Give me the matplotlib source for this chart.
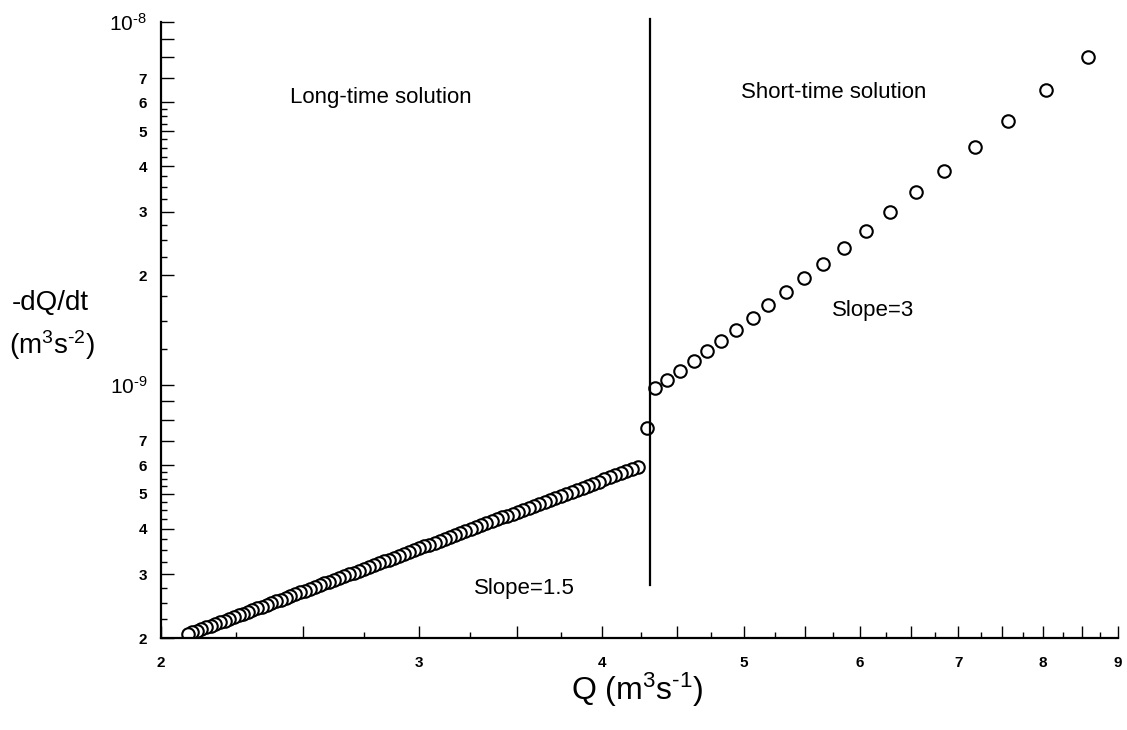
import matplotlib
matplotlib.use('Agg')
import matplotlib.pyplot as plt
from matplotlib.ticker import NullFormatter

plt.rcParams['font.family'] = ['Liberation Sans', 'DejaVu Sans']
plt.rcParams['mathtext.fontset'] = 'custom'
plt.rcParams['mathtext.rm'] = 'Liberation Sans'
plt.rcParams['mathtext.it'] = 'Liberation Sans:italic'
plt.rcParams['mathtext.bf'] = 'Liberation Sans:bold'

# short-time solution: Q [m3/s], -dQ/dt [1e-9 m3/s2]
q_short = [8.59, 8.04, 7.57, 7.19, 6.85, 6.55, 6.29, 6.06, 5.85, 5.66, 5.49,
           5.34, 5.19, 5.07, 4.94, 4.82, 4.72, 4.62, 4.52, 4.43, 4.35]
dq_short = [8.03, 6.50, 5.35, 4.53, 3.89, 3.40, 2.99, 2.66, 2.38, 2.15, 1.97,
            1.80, 1.654, 1.526, 1.417, 1.322, 1.235, 1.159, 1.093, 1.032, 0.979]

# point sitting on the switch between the two solutions
q_mid = [4.29]
dq_mid = [0.760]

# long-time solution: Q [m3/s], -dQ/dt [1e-10 m3/s2]
q_long = [4.230, 4.193, 4.156, 4.120, 4.085, 4.050, 4.015, 3.980, 3.946, 3.912,
          3.879, 3.846, 3.813, 3.781, 3.749, 3.717, 3.686, 3.655, 3.624, 3.594,
          3.564, 3.534, 3.505, 3.476, 3.447, 3.418, 3.390, 3.362, 3.335, 3.307,
          3.280, 3.253, 3.227, 3.201, 3.175, 3.149, 3.124, 3.098, 3.074, 3.049,
          3.025, 3.000, 2.976, 2.953, 2.929, 2.906, 2.883, 2.861, 2.838, 2.816,
          2.794, 2.772, 2.750, 2.729, 2.708, 2.687, 2.666, 2.646, 2.625, 2.605,
          2.585, 2.566, 2.546, 2.527, 2.508, 2.489, 2.470, 2.451, 2.433, 2.415,
          2.397, 2.379, 2.361, 2.344, 2.327, 2.309, 2.292, 2.276, 2.259, 2.242,
          2.226, 2.210, 2.194, 2.178, 2.162, 2.147, 2.131, 2.116, 2.101, 2.086]
dq_long = [5.919, 5.842, 5.766, 5.691, 5.618, 5.545, 5.474, 5.403, 5.334, 5.266,
           5.198, 5.132, 5.067, 5.002, 4.939, 4.877, 4.815, 4.754, 4.695, 4.636,
           4.578, 4.521, 4.464, 4.409, 4.354, 4.300, 4.247, 4.195, 4.143, 4.092,
           4.042, 3.993, 3.944, 3.896, 3.849, 3.802, 3.756, 3.711, 3.666, 3.622,
           3.579, 3.536, 3.494, 3.453, 3.412, 3.371, 3.331, 3.292, 3.253, 3.215,
           3.178, 3.140, 3.104, 3.068, 3.032, 2.997, 2.962, 2.928, 2.895, 2.861,
           2.829, 2.796, 2.765, 2.733, 2.702, 2.672, 2.641, 2.612, 2.582, 2.553,
           2.525, 2.497, 2.469, 2.442, 2.415, 2.388, 2.362, 2.336, 2.310, 2.285,
           2.260, 2.235, 2.211, 2.187, 2.164, 2.140, 2.117, 2.094, 2.072, 2.050]

q_switch = 4.31
switch_span = [2.8e-10, 1.02e-8]

x_major = [2, 3, 4, 5, 6, 7, 8, 9]
y_labels = ['2', '3', '4', '5', '6', '7', '$10^{\u20109}$',
            '2', '3', '4', '5', '6', '7', '$10^{\u20108}$']
y_labelled = [2e-10, 3e-10, 4e-10, 5e-10, 6e-10, 7e-10, 1e-9,
              2e-9, 3e-9, 4e-9, 5e-9, 6e-9, 7e-9, 1e-8]


q_all = q_short + q_mid + q_long
dq_all = [v * 1e-9 for v in dq_short + dq_mid] + [v * 1e-10 for v in dq_long]

fig = plt.figure(figsize=(11.27, 7.3), dpi=100)
ax = fig.add_axes([0.1429, 0.126, 0.8492, 0.8438])

# plotted from high Q to low Q so the lowest point ends on top
ax.plot(q_all, dq_all, 'o', ls='none', mfc='white', mec='black', ms=9, mew=1.5)
ax.plot([q_switch, q_switch], switch_span, color='black', lw=1.6, clip_on=False)

ax.set_xscale('log')
ax.set_yscale('log')
ax.set_xlim(2, 9)
ax.set_ylim(2e-10, 1e-8)

# x ticks: labelled integers, longer unlabelled halves, short quarters
x_half = [v + 0.5 for v in x_major[:-1]]
x_quarter = [v + f for v in x_major[:-1] for f in (0.25, 0.75)]
ax.set_xticks(x_major + x_half, labels=[str(v) for v in x_major] + [''] * len(x_half))
ax.set_xticks(x_quarter, minor=True)
ax.xaxis.set_minor_formatter(NullFormatter())

y_extra = [8e-10, 9e-10, 8e-9, 9e-9]
y_quarter = [m * dec for dec in (1e-10, 1e-9)
             for m in (1.25, 1.5, 1.75, 2.25, 2.5, 2.75, 3.25, 3.5, 3.75,
                       4.25, 4.5, 4.75, 5.25, 5.5, 5.75)
             if m * dec > 2e-10]
ax.set_yticks(y_labelled + y_extra, labels=y_labels + [''] * len(y_extra))
ax.set_yticks(y_quarter, minor=True)
ax.yaxis.set_minor_formatter(NullFormatter())

ax.tick_params(which='both', direction='in', width=1.0, labelsize=11)
ax.tick_params(which='major', length=9)
ax.tick_params(which='minor', length=4.5)
ax.tick_params(axis='y', pad=10)
ax.tick_params(axis='x', pad=13)
for lab in ax.get_xticklabels() + ax.get_yticklabels():
    lab.set_fontweight('bold')
for lab in ax.get_yticklabels():
    if lab.get_text().startswith('$'):
        lab.set_fontsize(15)

for side in ['top', 'right']:
    ax.spines[side].set_visible(False)
for side in ['left', 'bottom']:
    ax.spines[side].set_linewidth(1.6)

ax.text(0.2299, 0.878, 'Long-time solution', transform=ax.transAxes,
        ha='center', va='center', fontsize=16)
ax.text(0.703, 0.886, 'Short-time solution', transform=ax.transAxes,
        ha='center', va='center', fontsize=16)
ax.text(0.744, 0.532, 'Slope=3', transform=ax.transAxes,
        ha='center', va='center', fontsize=16)
ax.text(0.3793, 0.081, 'Slope=1.5', transform=ax.transAxes,
        ha='center', va='center', fontsize=16)

fig.text(50 / 1127, 1 - 303 / 730, '-dQ/dt', ha='center', va='center', fontsize=20)
fig.text(52 / 1127, 1 - 345 / 730, '(m$^3$s$^{\u20102}$)', ha='center', va='center', fontsize=20)
fig.text(637 / 1127, 1 - 690 / 730, 'Q (m$^3$s$^{\u20101}$)', ha='center', va='center', fontsize=23)

fig.savefig('out.png')
